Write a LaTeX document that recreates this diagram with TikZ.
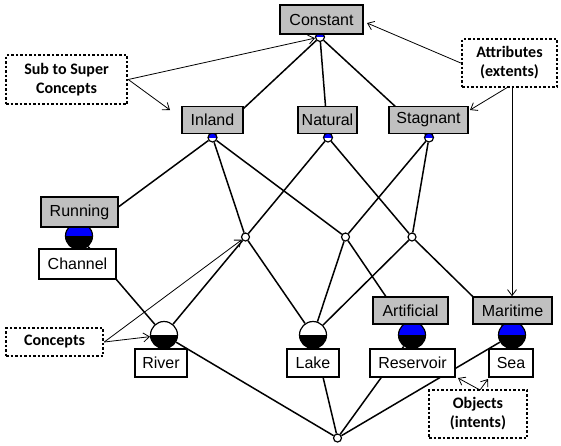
\documentclass[tikz,border=0pt]{standalone}
\usepackage{fontspec}
\setmainfont{Liberation Sans}
\newfontfamily\annfont{Carlito}
\usetikzlibrary{arrows.meta}
\definecolor{boxgray}{RGB}{192,192,192}
\definecolor{cblue}{RGB}{0,0,255}
\begin{document}
\begin{tikzpicture}[x=1pt,y=-1pt,
  edge/.style={line width=1.5pt, black},
  note/.style={-{Straight Barb[length=6pt,width=9pt]}, line width=0.8pt},
  gbox/.style={draw=black, line width=1.5pt, fill=boxgray, inner sep=0pt, minimum height=27pt, font=\fontsize{16}{19}\selectfont},
  wbox/.style={gbox, fill=white},
  ann/.style={draw, line width=2.5pt, dash pattern=on 2.5pt off 2pt, fill=white, align=center, inner sep=0pt, font=\annfont\bfseries\fontsize{16}{19}\selectfont},
  small/.style={circle, draw, fill=white, line width=1.2pt, minimum size=9pt, inner sep=0pt,
    path picture={\fill[cblue] (path picture bounding box.north west) rectangle (path picture bounding box.east);}},
  smallw/.style={circle, draw, fill=white, line width=1.2pt, minimum size=8pt, inner sep=0pt},
  big/.style={circle, draw, fill=white, line width=1.2pt, minimum size=27pt, inner sep=0pt,
    path picture={\fill[#1] (path picture bounding box.north west) rectangle (path picture bounding box.east);
      \fill[black] (path picture bounding box.west) rectangle (path picture bounding box.south east);}},
  big/.default=white
]
\useasboundingbox[fill=white] (0,0) rectangle (561,445);

% concept circles
\node[small] (cTop) at (320,37) {};
\node[small] (cInl) at (212.5,137.5) {};
\node[small] (cNat) at (328,137.5) {};
\node[small] (cStag) at (429,137.5) {};
\node[smallw] (ca) at (245.5,237) {};
\node[smallw] (cb) at (345.5,237) {};
\node[smallw] (cc) at (412,237) {};
\node[smallw] (cBot) at (337.5,438) {};
\node[big=cblue] (cRun) at (79,236) {};
\node[big] (cRiv) at (164,335) {};
\node[big] (cLake) at (313,335) {};
\node[big=cblue] (cArt) at (412,335) {};
\node[big=cblue] (cMar) at (512,335) {};

% lattice edges
\draw[edge] (cTop) -- (cInl);
\draw[edge] (cTop) -- (cNat);
\draw[edge] (cTop) -- (cStag);
\draw[edge] (cInl) -- (cRun);
\draw[edge] (cInl) -- (ca);
\draw[edge] (cInl) -- (cb);
\draw[edge] (cNat) -- (ca);
\draw[edge] (cNat) -- (cc);
\draw[edge] (cStag) -- (cb);
\draw[edge] (cStag) -- (cc);
\draw[edge] (cRun) -- (cRiv);
\draw[edge] (ca) -- (cRiv);
\draw[edge] (ca) -- (cLake);
\draw[edge] (cb) -- (cLake);
\draw[edge] (cb) -- (cArt);
\draw[edge] (cc) -- (cLake);
\draw[edge] (cc) -- (cMar);
\draw[edge] (cBot) -- (cRiv);
\draw[edge] (cBot) -- (cLake);
\draw[edge] (cBot) -- (cArt);
\draw[edge] (cBot) -- (cMar);

% label boxes
\node[gbox, minimum width=83pt, minimum height=29pt] (constant) at (321.5,19.5) {Constant};
\node[gbox, minimum width=61pt] (inland) at (212.5,120) {Inland};
\node[gbox, minimum width=59pt] (natural) at (327.5,120) {Natural};
\node[gbox, minimum width=79pt] (stagnant) at (428.5,120) {Stagnant};
\node[gbox, minimum width=77pt, minimum height=30pt] (running) at (79.5,212) {Running};
\node[wbox, minimum width=77pt, minimum height=30pt] (channel) at (77.5,264) {Channel};
\node[wbox, minimum width=52pt, minimum height=28pt] (river) at (161,363) {River};
\node[wbox, minimum width=52pt, minimum height=28pt] (lake) at (313,363) {Lake};
\node[gbox, minimum width=75pt] (artificial) at (410.5,310.5) {Artificial};
\node[wbox, minimum width=85pt, minimum height=28pt] (reservoir) at (412.5,363) {Reservoir};
\node[gbox, minimum width=79pt] (maritime) at (512.5,310.5) {Maritime};
\node[wbox, minimum width=44pt, minimum height=28pt] (sea) at (511,363) {Sea};

% annotation boxes
\node[ann, minimum width=121pt, minimum height=49pt] (sub) at (66.5,79.5) {Sub to Super\\Concepts};
\node[ann, minimum width=95pt, minimum height=48pt] (attr) at (509.5,63) {Attributes\\(extents)};
\node[ann, minimum width=97pt, minimum height=28pt] (conc) at (54.5,342) {Concepts};
\node[ann, minimum width=98pt, minimum height=48pt] (obj) at (478,414) {Objects\\(intents)};

% annotation arrows
\coordinate (subTip) at (170,110);
\coordinate (constTip) at (367,23);
\coordinate (attrA) at (508,87);
\coordinate (attrB) at (512,87);
\coordinate (stagTip) at (470,110);
\coordinate (objS) at (480,390);
\coordinate (resTip) at (458,378);
\coordinate (seaTip) at (488,379);
\draw[note] (sub.east) -- (cTop);
\draw[note] (sub.east) -- (subTip);
\draw[note] (attr.west) -- (constTip);
\draw[note] (attrA) -- (stagTip);
\draw[note] (attrB) -- (maritime.north -| attrB);
\draw[note] (conc.east) -- (cRiv);
\draw[note] (conc.east) -- (ca);
\draw[note] (objS) -- (resTip);
\draw[note] (objS) -- (seaTip);
\end{tikzpicture}
\end{document}
